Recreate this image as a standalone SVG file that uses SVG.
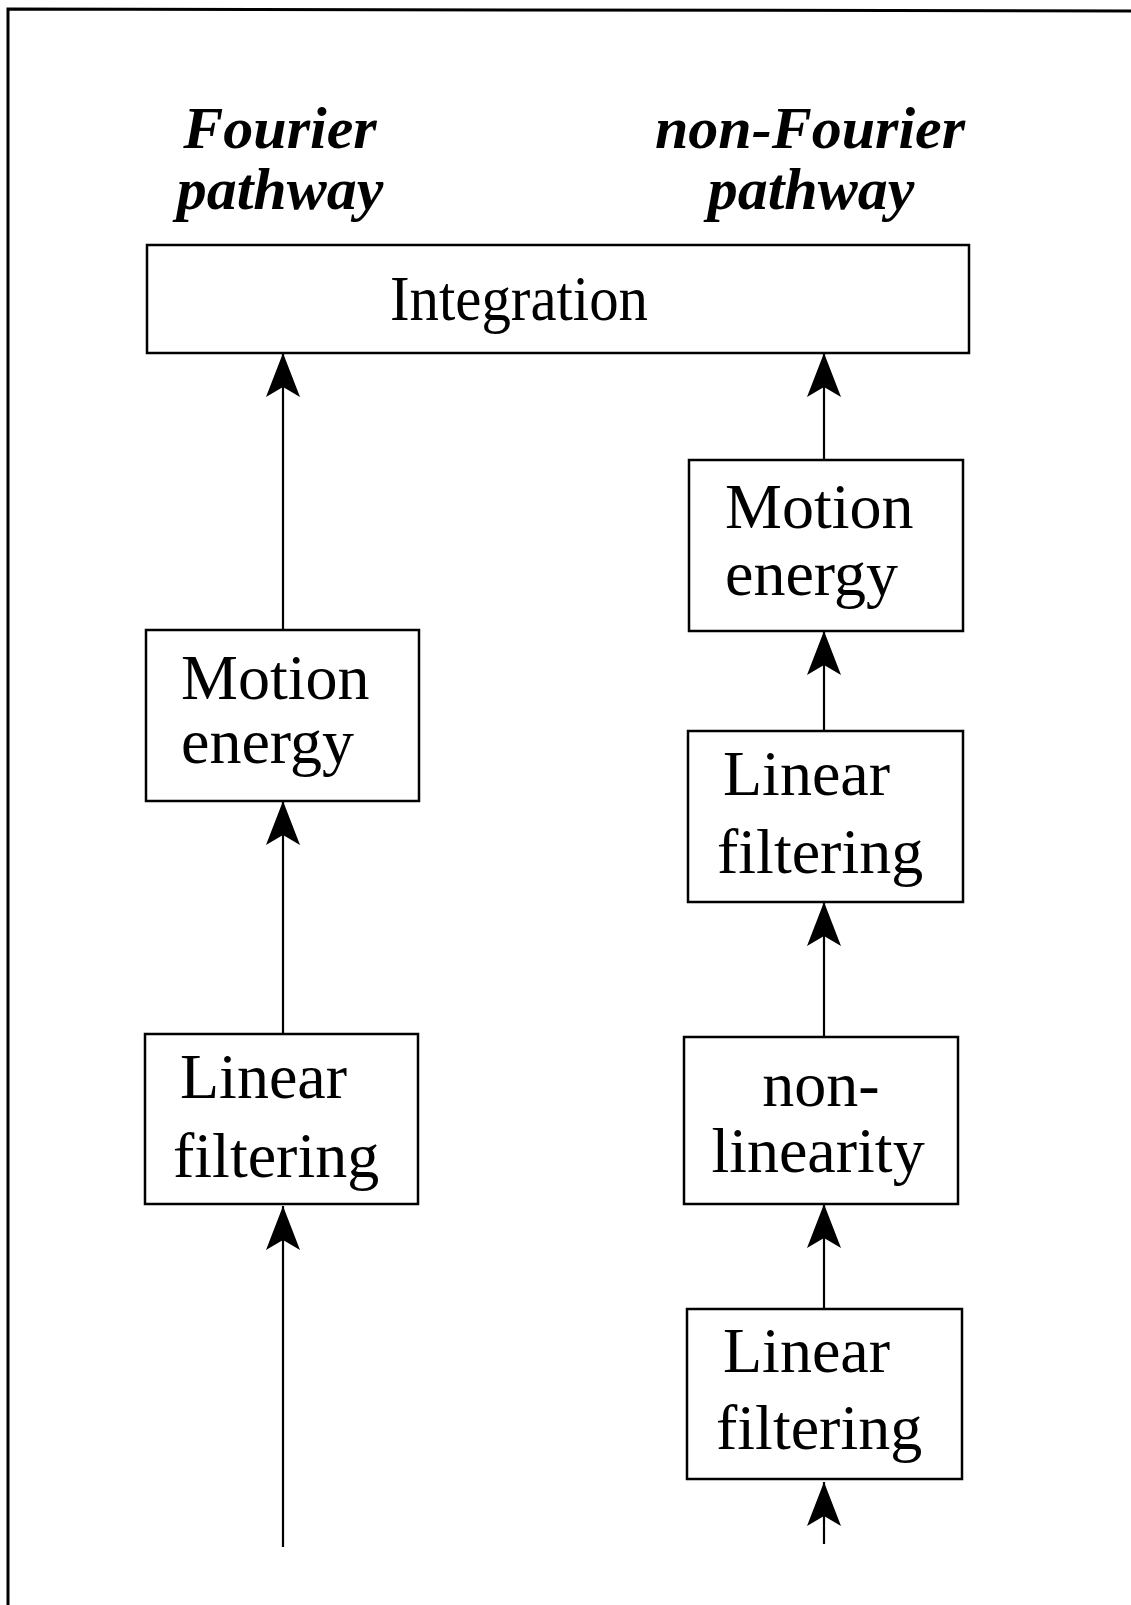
<svg xmlns="http://www.w3.org/2000/svg" width="1131" height="1605" viewBox="0 0 1131 1605">
<style>
  .box { fill: #fff; stroke: #000; stroke-width: 2.5; }
  .lbl { font-family: "Liberation Serif", "Times New Roman", serif; font-size: 64px; fill: #000; }
  .title { font-family: "Liberation Serif", "Times New Roman", serif; font-size: 60px; font-weight: bold; font-style: italic; fill: #000; text-anchor: middle; }
  .conn { stroke: #000; stroke-width: 2.2; fill: none; marker-end: url(#arr); }
</style>
<defs>
  <marker id="arr" markerUnits="userSpaceOnUse" viewBox="-46 -19 48 38" markerWidth="48" markerHeight="38" refX="0" refY="0" orient="auto">
    <path d="M0,0 L-44,-17 L-34,0 L-44,17 Z" fill="#000"/>
  </marker>
</defs>
<rect width="1131" height="1605" fill="#fff"/>
<g id="frame">
  <path d="M8,1605 L8,9 L1131,11" fill="none" stroke="#000" stroke-width="3"/>
</g>
<g id="titles">
  <text class="title" x="280" y="148">Fourier</text>
  <text class="title" x="280" y="209">pathway</text>
  <text class="title" x="810" y="148">non-Fourier</text>
  <text class="title" x="811" y="209">pathway</text>
</g>
<g id="connectors">
  <path class="conn" d="M283,1547 L283,1206"/>
  <path class="conn" d="M283,1034 L283,801"/>
  <path class="conn" d="M283,630 L283,353"/>
  <path class="conn" d="M824,1544 L824,1482"/>
  <path class="conn" d="M824,1309 L824,1204"/>
  <path class="conn" d="M824,1037 L824,902"/>
  <path class="conn" d="M824,731 L824,631"/>
  <path class="conn" d="M824,460 L824,353"/>
</g>
<g id="integration">
  <rect class="box" x="147" y="245" width="822" height="108"/>
  <text class="lbl" x="519" y="320" text-anchor="middle" font-size="60" textLength="258" lengthAdjust="spacingAndGlyphs">Integration</text>
</g>
<g id="f-motion">
  <rect class="box" x="146" y="630" width="273" height="171"/>
  <text class="lbl" x="181" y="699">Motion</text>
  <text class="lbl" x="181" y="763">energy</text>
</g>
<g id="f-linear">
  <rect class="box" x="145" y="1034" width="273" height="170"/>
  <text class="lbl" x="180" y="1098">Linear</text>
  <text class="lbl" x="173" y="1177">filtering</text>
</g>
<g id="nf-motion">
  <rect class="box" x="689" y="460" width="274" height="171"/>
  <text class="lbl" x="725" y="528">Motion</text>
  <text class="lbl" x="725" y="595">energy</text>
</g>
<g id="nf-linear2">
  <rect class="box" x="688" y="731" width="275" height="171"/>
  <text class="lbl" x="723" y="795">Linear</text>
  <text class="lbl" x="717" y="873">filtering</text>
</g>
<g id="nf-nonlin">
  <rect class="box" x="684" y="1037" width="274" height="167"/>
  <text class="lbl" x="821" y="1106" text-anchor="middle">non-</text>
  <text class="lbl" x="818" y="1172" text-anchor="middle">linearity</text>
</g>
<g id="nf-linear1">
  <rect class="box" x="687" y="1309" width="275" height="170"/>
  <text class="lbl" x="723" y="1372">Linear</text>
  <text class="lbl" x="716" y="1449">filtering</text>
</g>
</svg>
